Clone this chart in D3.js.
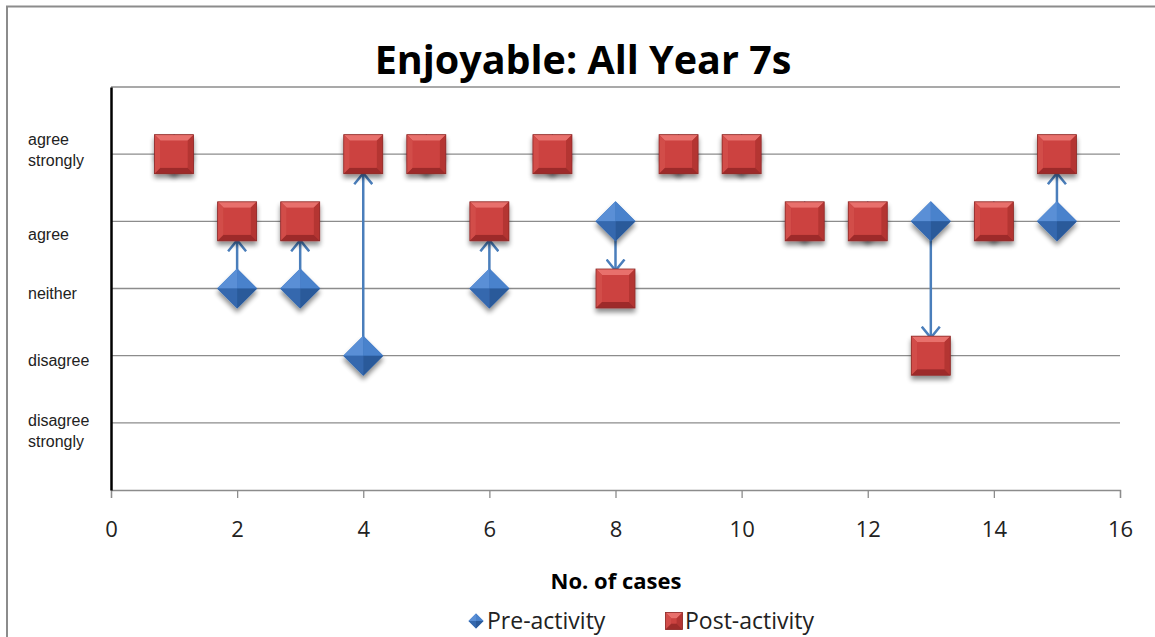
<!DOCTYPE html>
<html><head><meta charset="utf-8">
<script src="https://cdn.jsdelivr.net/npm/d3@7"></script>
<style>
body{margin:0;background:#fff;}
svg{display:block;font-family:"Open Sans","Liberation Sans",sans-serif;}
</style></head>
<body><svg id="c" width="1155" height="637"></svg>
<script>
const cases = [1,2,3,4,5,6,7,8,9,10,11,12,13,14,15];
const preActivity  = [5,3,3,2,5,3,5,4,5,5,4,4,4,4,4];
const postActivity = [5,4,4,5,5,4,5,3,5,5,4,4,2,4,5];
const yLevels = [1,2,3,4,5];
const yLabels = ["disagree strongly","disagree","neither","agree","agree strongly"];
const xTicks = [0,2,4,6,8,10,12,14,16];
const title = "Enjoyable: All Year 7s";
const xTitle = "No. of cases";
const seriesNames = ["Pre-activity","Post-activity"];

const svg = d3.select("#c");
const defs = svg.append("defs");
const f = defs.append("filter").attr("id","sh").attr("x","-50%").attr("y","-50%").attr("width","200%").attr("height","200%");
f.append("feGaussianBlur").attr("in","SourceAlpha").attr("stdDeviation",2.5).attr("result","b");
f.append("feOffset").attr("in","b").attr("dx",0).attr("dy",4).attr("result","o");
f.append("feComponentTransfer").attr("in","o").attr("result","o2").append("feFuncA").attr("type","linear").attr("slope",0.45);
const fm = f.append("feMerge"); fm.append("feMergeNode").attr("in","o2"); fm.append("feMergeNode").attr("in","SourceGraphic");

defs.append("marker").attr("id","ah").attr("viewBox","-12 -10 14 20").attr("refX",0).attr("refY",0)
  .attr("markerWidth",14).attr("markerHeight",20).attr("markerUnits","userSpaceOnUse").attr("orient","auto")
  .append("path").attr("d","M-11,-9L0,0L-11,9").attr("fill","none").attr("stroke","#4a7ebb").attr("stroke-width",2.5);

// frame
svg.append("path").attr("d","M7,637V6.5H1155").attr("fill","none").attr("stroke","#8c8c8c").attr("stroke-width",2);

const x = d3.scaleLinear().domain([0,16]).range([111,1120]);
const y = d3.scaleLinear().domain([0,6]).range([490,87]);

// gridlines
svg.append("g").selectAll("line").data([1,2,3,4,5,6]).join("line")
  .attr("x1",x(0)).attr("x2",x(16)).attr("y1",d=>y(d)).attr("y2",d=>y(d))
  .attr("stroke","#8c8c8c").attr("stroke-width",1.3);

// x axis
const xa = svg.append("g").attr("transform",`translate(0,${y(0)})`)
  .call(d3.axisBottom(x).tickValues(xTicks).tickSize(8).tickPadding(23).tickFormat(d3.format("d")));
xa.select(".domain").attr("stroke","#8c8c8c").attr("stroke-width",1.3);
xa.selectAll(".tick line").attr("stroke","#8c8c8c").attr("stroke-width",1.3);
xa.selectAll(".tick text").attr("font-size",22).attr("fill","#222").attr("font-family","'Open Sans',sans-serif");

// y axis
const ya = svg.append("g").attr("transform",`translate(${x(0)},0)`)
  .call(d3.axisLeft(y).tickValues(yLevels).tickSize(0).tickFormat(""));
ya.select(".domain").attr("stroke","#000").attr("stroke-width",2.5);
const labelOffset = {1:8,2:5,3:5,4:13,5:-4};
ya.selectAll(".tick").each(function(d){
  const i = yLevels.indexOf(d);
  const words = yLabels[i].split(" ");
  const t = d3.select(this).select("text").attr("x",-83).attr("text-anchor","start")
    .attr("font-size",16).attr("fill","#222").attr("dy",null);
  const n = words.length;
  words.forEach((w,k)=>{
    t.append("tspan").attr("x",-83).attr("y", labelOffset[d] + (k-(n-1)/2)*21 + 5).text(w);
  });
});

// arrows
const data = cases.map((c,i)=>({c,pre:preActivity[i],post:postActivity[i]}));
svg.append("g").selectAll("line").data(data.filter(d=>d.pre!==d.post)).join("line")
  .attr("x1",d=>x(d.c)).attr("x2",d=>x(d.c))
  .attr("y1",d=>y(d.pre)+(d.post>d.pre?-12:12))
  .attr("y2",d=>y(d.post)+(d.post>d.pre?19:-18))
  .attr("stroke","#4a7ebb").attr("stroke-width",2.5).attr("marker-end","url(#ah)");

// diamonds
function diamond(g, s){
  const h = s/2;
  g.append("path").attr("d",`M0,${-h}L${h},0L0,${h}L${-h},0Z`).attr("fill","#3d74bd");
  g.append("path").attr("d",`M0,${-h}L0,0L${-h},0Z`).attr("fill","#5a8fd6");
  g.append("path").attr("d",`M0,${-h}L${h},0L0,0Z`).attr("fill","#4a82cc");
  g.append("path").attr("d",`M${-h},0L0,0L0,${h}Z`).attr("fill","#3568ae");
  g.append("path").attr("d",`M${h},0L0,${h}L0,0Z`).attr("fill","#2b5a9a");
}
function square(g, s){
  const h=s/2, k=h-6;
  g.append("rect").attr("x",-h).attr("y",-h).attr("width",s).attr("height",s).attr("fill","#c23c3a");
  g.append("path").attr("d",`M${-h},${-h}H${h}L${k},${-k}H${-k}Z`).attr("fill","#e8706c");
  g.append("path").attr("d",`M${-h},${-h}L${-k},${-k}V${k}L${-h},${h}Z`).attr("fill","#d24d4a");
  g.append("path").attr("d",`M${h},${-h}L${k},${-k}V${k}L${h},${h}Z`).attr("fill","#b43533");
  g.append("path").attr("d",`M${-h},${h}L${-k},${k}H${k}L${h},${h}Z`).attr("fill","#9d2c2a");
  g.append("rect").attr("x",-k).attr("y",-k).attr("width",2*k).attr("height",2*k).attr("fill","#cc4340");
  g.append("rect").attr("x",-h).attr("y",-h).attr("width",s).attr("height",s).attr("fill","none").attr("stroke","#8e2b29").attr("stroke-width",0.8);
}
svg.append("g").selectAll("g").data(data).join("g")
  .attr("transform",d=>`translate(${x(d.c)},${y(d.pre)})`).attr("filter","url(#sh)")
  .each(function(){diamond(d3.select(this),40);});
svg.append("g").selectAll("g").data(data).join("g")
  .attr("transform",d=>`translate(${x(d.c)},${y(d.post)})`).attr("filter","url(#sh)")
  .each(function(){square(d3.select(this),39);});

// titles
svg.append("text").attr("x",583).attr("y",74).attr("text-anchor","middle")
  .attr("font-size",39.5).attr("font-weight","bold").attr("fill","#000").text(title);
svg.append("text").attr("x",616).attr("y",589).attr("text-anchor","middle")
  .attr("font-size",22).attr("font-weight","bold").attr("fill","#000").text(xTitle);

// legend
const lg = svg.append("g");
const l1 = lg.append("g").attr("transform","translate(476,621)"); diamond(l1,15);
lg.append("text").attr("x",487).attr("y",629).attr("font-size",23).attr("fill","#222").text(seriesNames[0]);
const l2 = lg.append("g").attr("transform","translate(674,621)"); square(l2,17);
lg.append("text").attr("x",685).attr("y",629).attr("font-size",23).attr("fill","#222").text(seriesNames[1]);
</script></body></html>
